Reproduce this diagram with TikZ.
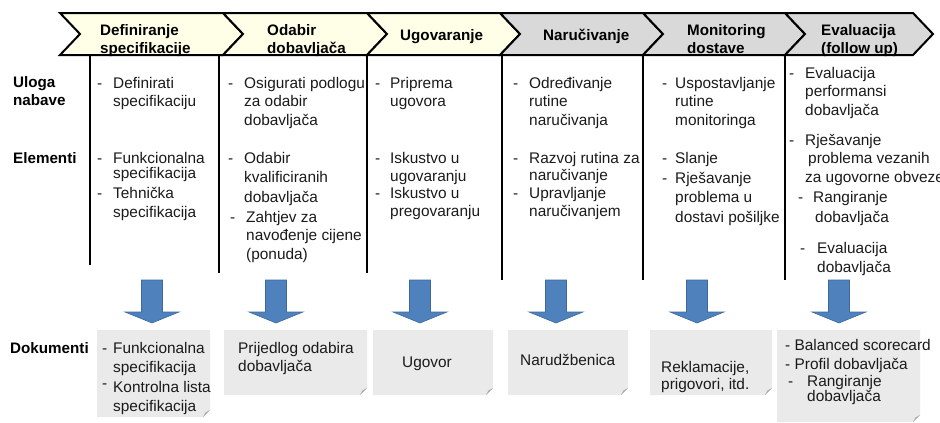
\documentclass[tikz,border=0pt]{standalone}
\usepackage{fontspec}
\setmainfont{Liberation Sans}
\definecolor{hdrA}{HTML}{FFFFE8}
\definecolor{hdrB}{HTML}{D9D9D9}
\definecolor{arrfill}{HTML}{4F81BD}
\definecolor{arrdraw}{HTML}{3C6A9E}
\definecolor{docfill}{HTML}{EAEAEA}
\definecolor{foldc}{HTML}{A8A8A8}
\definecolor{txtc}{HTML}{1A1A1A}
\newcommand\myst{\rule{0pt}{12pt}}
\newcommand\dl{\makebox[16pt][l]{-}}
\newcommand\dlb{\makebox[13pt][l]{-}}
\newcommand\ind{\hspace*{16pt}}
\newcommand\indb{\hspace*{13pt}}
\begin{document}
\begin{tikzpicture}[x=1pt,y=-1pt,
  txt/.style={font=\fontsize{15.4}{18.5}\selectfont, text=txtc, inner sep=0pt, anchor=north west, align=left},
  hdr/.style={txt, font=\fontsize{15.2}{18}\selectfont\bfseries, text=black},
  chev/.style={draw=black, line width=2pt, line join=miter},
  divider/.style={draw=black, line width=2.2pt},
  blockarrow/.style={fill=arrfill, draw=arrdraw, line width=0.6pt},
  docbox/.style={fill=docfill},
  fold/.style={fill=foldc}]
\useasboundingbox (0,0) rectangle (940,423);
\clip (0,0) rectangle (940,423);

% header chevrons
\foreach \a/\b/\c in {60/223/hdrA, 223/367/hdrA, 367/500/hdrA, 500/643/hdrB, 643/785/hdrB, 785/913/hdrB}
  \filldraw[chev, fill=\c] (\a,13) -- (\b,13) -- (\b+20,34) -- (\b,55) -- (\a,55) -- (\a+20,34) -- cycle;

\node[hdr] (h1) at (100,23) {\myst Definiranje\\specifikacije};
\node[hdr] (h2) at (267,23) {\myst Odabir\\dobavljača};
\node[hdr] (h3) at (400,28) {\myst Ugovaranje};
\node[hdr] (h4) at (543,28) {\myst Naručivanje};
\node[hdr] (h5) at (687,23) {\myst Monitoring\\dostave};
\node[hdr] (h6) at (821,23) {\myst Evaluacija\\[0.5pt](follow up)};

% column dividers
\draw[divider] (90,55) -- (90,265);
\draw[divider] (219,55) -- (219,273);
\draw[divider] (367,55) -- (367,273);
\draw[divider] (502,55) -- (502,280);
\draw[divider] (643,55) -- (643,280);
\draw[divider] (785,55) -- (785,280);

% row labels
\node[hdr] (rUloga) at (13,75) {\myst Uloga\\nabave};
\node[hdr] (rElem) at (13,151) {\myst Elementi};
\node[hdr] (rDok) at (10,341) {\myst Dokumenti};

% column 1
\node[txt] (c1u) at (97,76) {\myst\dl Definirati\\\ind specifikaciju};
\node[txt] (c1e1) at (97,151) {\myst\dl Funkcionalna\\[-3.5pt]\ind specifikacija};
\node[txt] (c1e2) at (97,186) {\myst\dl Tehnička\\[1pt]\ind specifikacija};

% column 2
\node[txt] (c2u) at (228,76) {\myst\dl Osigurati podlogu\\\ind za odabir\\\ind dobavljača};
\node[txt] (c2e1) at (228,151) {\myst\dl Odabir\\[1pt]\ind kvalificiranih\\[1pt]\ind dobavljača};
\node[txt] (c2e2) at (230,210) {\myst\dl Zahtjev za\\\ind navođenje cijene\\\ind (ponuda)};

% column 3
\node[txt] (c3u) at (375,76) {\myst\makebox[15pt][l]{-}Priprema\\\hspace*{15pt}ugovora};
\node[txt] (c3e1) at (375,151) {\myst\makebox[15pt][l]{-}Iskustvo u\\\hspace*{15pt}ugovaranju};
\node[txt] (c3e2) at (375,186) {\myst\makebox[15pt][l]{-}Iskustvo u\\\hspace*{15pt}pregovaranju};

% column 4
\node[txt] (c4u) at (513,76) {\myst\dl Određivanje\\\ind rutine\\\ind naručivanja};
\node[txt] (c4e1) at (513,151) {\myst\dl Razvoj rutina za\\[-1.5pt]\ind naručivanje};
\node[txt] (c4e2) at (513,186) {\myst\dl Upravljanje\\\ind naručivanjem};

% column 5
\node[txt] (c5u) at (662,76) {\myst\dlb Uspostavljanje\\\indb rutine\\\indb monitoringa};
\node[txt] (c5e1) at (662,151) {\myst\dlb Slanje};
\node[txt] (c5e2) at (662,171) {\myst\dlb Rješavanje\\[1pt]\indb problema u\\[1pt]\indb dostavi pošiljke};

% column 6
\node[txt] (c6a) at (789,66) {\myst\makebox[16pt][l]{-}Evaluacija\\\hspace*{16pt}performansi\\\hspace*{16pt}dobavljača};
\node[txt] (c6b) at (789,133) {\myst\makebox[16pt][l]{-}Rješavanje\\\hspace*{19pt}problema vezanih\\\hspace*{16pt}za ugovorne obveze};
\node[txt] (c6c) at (798,190) {\myst\makebox[15pt][l]{-}Rangiranje\\[1.5pt]\hspace*{17pt}dobavljača};
\node[txt] (c6d) at (800,241) {\myst\makebox[17pt][l]{-}Evaluacija\\[0.5pt]\hspace*{17pt}dobavljača};

% block arrows
\foreach \cx in {152,276,420,556,697,839}
  \filldraw[blockarrow] (\cx-10.5,280) -- (\cx+10.5,280) -- (\cx+10.5,312) -- (\cx+27,312)
    -- (\cx,323) -- (\cx-27,312) -- (\cx-10.5,312) -- cycle;

% document boxes
\foreach \x/\y/\X/\Y in {97/330/210/417, 224/330/367/395, 373/330/493/395, 508/330/628/395, 650/330/772/395, 777/330/920/422}{
  \fill[docbox] (\x,\y) -- (\X,\y) -- (\X,\Y-7) -- (\X-7,\Y) -- (\x,\Y) -- cycle;
  \fill[fold] (\X,\Y-7) -- (\X-7,\Y) -- (\X-4.5,\Y-4.5) -- cycle;
}

\node[txt] (d1) at (102,341) {\myst\makebox[11pt][l]{-}Funkcionalna\\[0.5pt]\hspace*{11pt}specifikacija\\[2pt]\makebox[11pt][l]{\raisebox{4pt}{-}}Kontrolna lista\\\hspace*{11pt}specifikacija};
\node[txt] (d2) at (238,341) {\myst Prijedlog odabira\\dobavljača};
\node[txt, anchor=base] (d3) at (427,367) {Ugovor};
\node[txt] (d4) at (520,353) {\myst Narudžbenica};
\node[txt] (d5) at (661,360) {\myst Reklamacije,\\[-1pt]prigovori, itd.};
\node[txt] (d6) at (785,338) {\myst - Balanced scorecard\\[1pt]- Profil dobavljača\\[-2pt]\makebox[22pt][l]{\hspace*{3pt}-}Rangiranje\\[-3pt]\hspace*{22pt}dobavljača};
\end{tikzpicture}
\end{document}
